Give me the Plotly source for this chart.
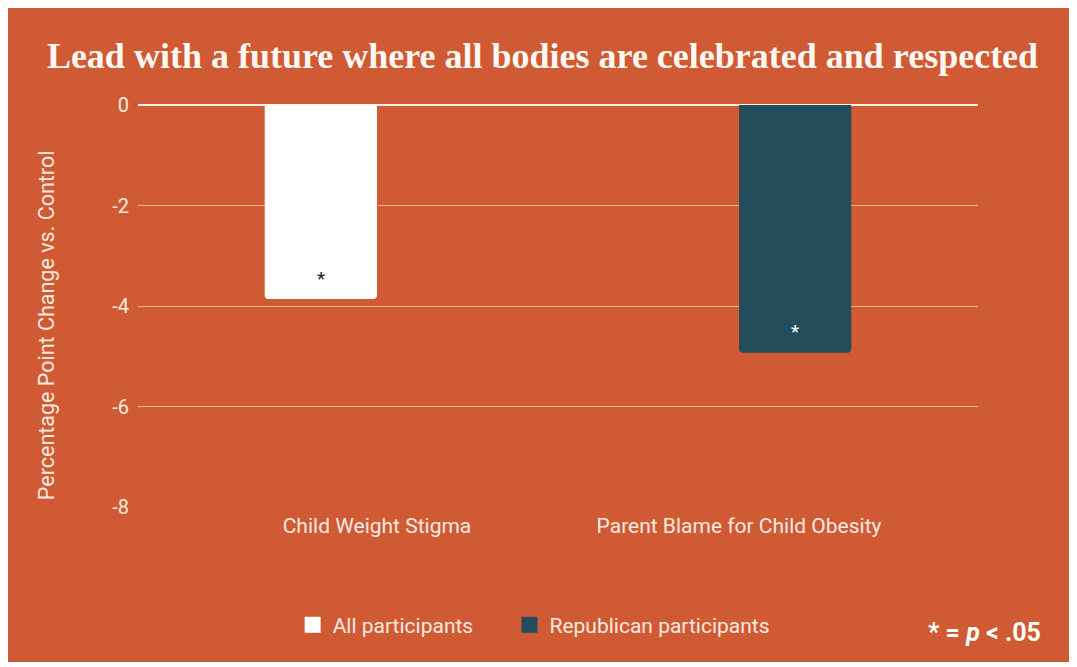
import plotly.graph_objects as go

categories = ["Child Weight Stigma", "Parent Blame for Child Obesity"]
all_participants = [-3.86, None]
republican_participants = [None, -4.93]
sig_all = ["*", ""]
sig_rep = ["", "*"]
y_ticks = [0, -2, -4, -6, -8]
series_names = ["All participants", "Republican participants"]

ORANGE = "#D05A33"
TEAL = "#244D5C"
CREAM = "#FBEAE0"
GRID = "#F2B596"

fig = go.Figure()
fig.add_trace(go.Bar(
    name=series_names[0], x=categories, y=all_participants, showlegend=False,
    legendgroup="all", marker=dict(color="#FFFFFF", cornerradius=4, line=dict(width=0)),
))
fig.add_trace(go.Bar(
    name=series_names[1], x=categories, y=republican_participants, showlegend=False,
    legendgroup="rep", marker=dict(color=TEAL, cornerradius=4, line=dict(width=0)),
))
# legend entries with larger square swatches (extra spacing after the first entry)
fig.add_trace(go.Scatter(name=series_names[0] + "&nbsp;" * 6, x=[None], y=[None], mode="markers",
                         legendgroup="all",
                         marker=dict(symbol="square", size=20, color="#FFFFFF")))
fig.add_trace(go.Scatter(name=series_names[1], x=[None], y=[None], mode="markers",
                         legendgroup="rep",
                         marker=dict(symbol="square", size=20, color=TEAL)))

# significance asterisks
for cat, v, s in zip(categories, all_participants, sig_all):
    if s and v is not None:
        fig.add_annotation(x=cat, y=v, xref="x", yref="y", text=s, showarrow=False,
                           xshift=-56, yshift=20, font=dict(family="Roboto", size=19, color="#222222"))
for cat, v, s in zip(categories, republican_participants, sig_rep):
    if s and v is not None:
        fig.add_annotation(x=cat, y=v, xref="x", yref="y", text=s, showarrow=False,
                           xshift=56, yshift=21, font=dict(family="Roboto", size=19, color="#FFFFFF"))

fig.add_annotation(xref="paper", yref="paper", x=1.077, y=-0.311, xanchor="right", yanchor="middle",
                   text="<b>* = <i>p</i> < .05</b>", showarrow=False,
                   font=dict(family="Roboto", size=25, color="#FFFFFF"))

# y-axis title
fig.add_annotation(xref="paper", yref="paper", x=-0.108, y=0.453, xanchor="center", yanchor="middle",
                   text="Percentage Point Change vs. Control", textangle=-90, showarrow=False,
                   font=dict(family="Roboto", size=21.5, color=CREAM))

fig.update_layout(
    width=1069, height=654,
    margin=dict(l=130, r=99, t=97, b=155),
    paper_bgcolor=ORANGE,
    plot_bgcolor=ORANGE,
    barmode="group",
    bargap=0.38,
    bargroupgap=0,
    title=dict(text="<b>Lead with a future where all bodies are celebrated and respected</b>",
               x=0.5, xanchor="center", y=1 - 47 / 654, yanchor="middle", xref="container",
               font=dict(family="Liberation Serif", size=36, color="#FFF8F2")),
    font=dict(family="Roboto", color=CREAM),
    showlegend=True,
    legend=dict(orientation="h", x=0.471, xanchor="center", y=-0.2935, yanchor="middle",
                font=dict(family="Roboto", size=21, color=CREAM), bgcolor="rgba(0,0,0,0)",
                itemwidth=30, traceorder="normal"),
)
fig.update_xaxes(type="category", range=[-0.66, 1.66], showgrid=False, showline=False,
                 ticks="", ticklabelstandoff=4,
                 tickfont=dict(family="Roboto", size=21, color=CREAM))
fig.update_yaxes(range=[-8, 0], tickvals=y_ticks, ticktext=[str(t) for t in y_ticks],
                 showgrid=True, gridcolor=GRID, gridwidth=1,
                 zeroline=True, zerolinecolor="#FFF3EA", zerolinewidth=2,
                 showline=False, ticks="", ticklabelstandoff=8,
                 tickfont=dict(family="Roboto", size=20, color=CREAM))

fig.write_html("out.html")
